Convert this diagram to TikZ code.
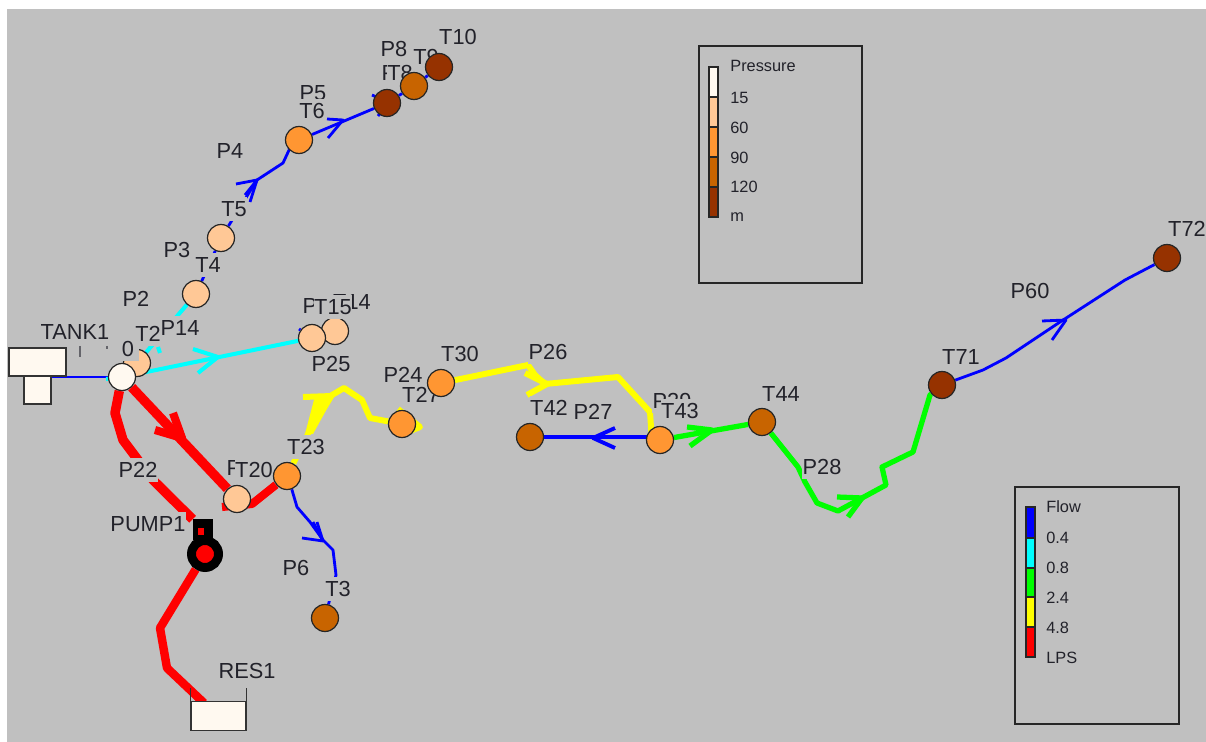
\documentclass[tikz,border=0pt]{standalone}
\usepackage{fontspec}
\setmainfont{Liberation Sans}
\usetikzlibrary{backgrounds}
\definecolor{mapgray}{HTML}{C0C0C0}
\definecolor{inkgray}{HTML}{22222A}
\definecolor{pressA}{HTML}{FFF9F0}
\definecolor{pressB}{HTML}{FFC896}
\definecolor{pressC}{HTML}{FF9632}
\definecolor{pressD}{HTML}{C86400}
\definecolor{pressE}{HTML}{963200}
\definecolor{flowA}{HTML}{0000FF}
\definecolor{flowB}{HTML}{00FFFF}
\definecolor{flowC}{HTML}{00FF00}
\definecolor{flowD}{HTML}{FFFF00}
\definecolor{flowE}{HTML}{FF0000}

\begin{document}
\begin{tikzpicture}[x=0.02cm, y=-0.02cm,
  junction/.style={circle, draw=black!85, line width=0.7pt, minimum size=0.54cm, inner sep=0pt},
  maplabel/.style={font=\fontsize{12.4}{14}\selectfont, text=inkgray, fill=mapgray, text height=9pt, text depth=0pt, inner ysep=2.6pt, inner xsep=0.3pt},
  legendlabel/.style={font=\fontsize{9.3}{11}\selectfont, text=inkgray, anchor=west, inner sep=0pt},
  legendbox/.style={draw=black!85, line width=0.9pt},
  legendbar/.style={draw=black!85, line width=0.8pt},
  tankbox/.style={draw=black!80, line width=0.8pt, fill=pressA, inner sep=0pt},
  pipeblue/.style={draw=flowA, line width=1.6pt, line join=round},
  pipecyan/.style={draw=flowB, line width=2.3pt, line join=round},
  pipegreen/.style={draw=flowC, line width=3pt, line join=round},
  pipeyellow/.style={draw=flowD, line width=3.4pt, line join=round},
  pipered/.style={draw=flowE, line width=5.4pt, line join=round}]
\useasboundingbox (0,0) rectangle (1206,742);

% pipe labels first, the node labels sit on top of them
\node[maplabel] (lbP2) at (136,299) {P2};
\node[maplabel] (lbP3) at (177,250) {P3};
\node[maplabel] (lbP4) at (230,151) {P4};
\node[maplabel] (lbP5) at (313,93) {P5};
\node[maplabel] (lbP6) at (296,568) {P6};
\node[maplabel] (lbP7) at (395,73) {P7};
\node[maplabel] (lbP8) at (394,49) {P8};
\node[maplabel] (lbP13) at (322,306) {P13};
\node[maplabel] (lbP14) at (180,328) {P14};
\node[maplabel] (lbP21) at (246,468) {P21};
\node[maplabel] (lbP22) at (138,470) {P22};
\node[maplabel] (lbP24) at (403,375) {P24};
\node[maplabel] (lbP25) at (331,364) {P25};
\node[maplabel] (lbP26) at (548,352) {P26};
\node[maplabel] (lbP27) at (593,412) {P27};
\node[maplabel] (lbP28) at (822,467) {P28};
\node[maplabel] (lbP29) at (672,401) {P29};
\node[maplabel] (lbP60) at (1030,291) {P60};

% tanks and pump
\node[tankbox, minimum width=0.54cm, minimum height=0.56cm] (tankLow) at (37.5,390) {};
\node[tankbox, minimum width=1.14cm, minimum height=0.56cm] (tankTop) at (37.5,362) {};
\node[maplabel] (lbTank) at (75,332) {TANK1};
\node[tankbox, minimum width=1.1cm, minimum height=0.58cm] (res) at (218.5,716) {};
\draw[draw=black!80, line width=0.8pt] (res.north west) -- ++(0,-13);
\draw[draw=black!80, line width=0.8pt] (res.north east) -- ++(0,-13);
\node[maplabel] (lbRes) at (247,671) {RES1};
\node[maplabel] (lbPump) at (148,524) {PUMP1};
\node[fill=black, minimum width=0.4cm, minimum height=0.42cm, inner sep=0pt] (pumpHead) at (203,529.5) {};
\node[fill=flowE, minimum width=0.12cm, minimum height=0.14cm, inner sep=0pt] (pumpMark) at (201,531.5) {};
\node[circle, draw=black, fill=flowE, line width=5.1pt, minimum size=0.54cm, inner sep=0pt] (pump) at (205,554) {};

% junctions with their labels, in number order
\node[junction, fill=pressB] (T2) at (137,363) {};
\node[maplabel, inner xsep=3pt] (lb0) at (128,349) {0};
\node[maplabel] (lbT2) at (148,334) {T2};
\node[junction, fill=pressD] (T3) at (325,618) {};
\node[maplabel] (lbT3) at (338,589) {T3};
\node[junction, fill=pressB] (T4) at (196,294) {};
\node[maplabel] (lbT4) at (208,265) {T4};
\node[junction, fill=pressB] (T5) at (221,238) {};
\node[maplabel] (lbT5) at (234,209) {T5};
\node[junction, fill=pressC] (T6) at (299,140) {};
\node[maplabel] (lbT6) at (312,111) {T6};
\node[junction, fill=pressE] (T8) at (387,103) {};
\node[maplabel] (lbT8) at (400,73) {T8};
\node[junction, fill=pressD] (T9) at (414,86) {};
\node[maplabel] (lbT9) at (426,57) {T9};
\node[junction, fill=pressE] (T10) at (439,67) {};
\node[maplabel] (lbT10) at (458,37) {T10};
\node[junction, fill=pressB] (T14) at (335,331) {};
\node[maplabel] (lbT14) at (352,302) {T14};
\node[junction, fill=pressB] (T15) at (312,338) {};
\node[maplabel] (lbT15) at (333,307) {T15};
\node[junction, fill=pressB] (T20) at (237,499) {};
\node[maplabel] (lbT20) at (254,470) {T20};
\node[junction, fill=pressC] (T23) at (287,476) {};
\node[maplabel] (lbT23) at (306,447) {T23};
\node[junction, fill=pressC] (T27) at (402,424) {};
\node[maplabel] (lbT27) at (421,395) {T27};
\node[junction, fill=pressC] (T30) at (441,383) {};
\node[maplabel] (lbT30) at (460,354) {T30};
\node[junction, fill=pressD] (T42) at (530,437) {};
\node[maplabel] (lbT42) at (549,408) {T42};
\node[junction, fill=pressC] (T43) at (660,440) {};
\node[maplabel] (lbT43) at (680,411) {T43};
\node[junction, fill=pressD] (T44) at (762,422) {};
\node[maplabel] (lbT44) at (781,394) {T44};
\node[junction, fill=pressE] (T71) at (942,385) {};
\node[maplabel] (lbT71) at (961,357) {T71};
\node[junction, fill=pressE] (T72) at (1167,258) {};
\node[maplabel] (lbT72) at (1187,229) {T72};
\node[junction, fill=pressA] (T0) at (122,377) {};

\begin{scope}[on background layer]
\fill[white] (0,0) rectangle (1206,742);
\fill[mapgray] (7,9) rectangle (1206,742);
\coordinate (stubA) at (106,379);
\coordinate (stubB) at (299,329);
\coordinate (redIn) at (222,507);
\coordinate (resIn) at (204,703);
\coordinate (tankOut) at (51,377);
\coordinate (yellowIn) at (652,442);
% blue
\draw[pipeblue] (tankOut) -- (T0);
\draw[pipeblue] (T2) -- (T4);
\draw[pipeblue] (T4) -- (T5);
\draw[pipeblue] (T5) -- (257,180) -- (283,163) -- (290,148) -- (T6);
\draw[pipeblue] (236,184) -- (257,180) -- (250,202);
\draw[pipeblue] (245,195) -- (257,180);
\draw[pipeblue] (T6) -- (T8);
\draw[pipeblue] (327,119) -- (343,120) -- (328,138);
\draw[pipeblue] (372,95) -- (390,103) -- (378,116);
\draw[pipeblue] (T8) -- (T9);
\draw[pipeblue] (T9) -- (T10);
\draw[pipeblue] (T15) -- (stubB);
\draw[pipeblue] (T23) -- (292,490) -- (297,507) -- (310,522) -- (323,540) -- (333,550) -- (336,575) -- (T3);
\draw[pipeblue] (302,538) -- (323,541) -- (313,522);
\draw[pipeblue] (323,541) -- (317,522);
\draw[pipeblue, line width=2.2pt] (T42.east) -- (T42 -| T43);
\draw[pipeblue, line width=2.2pt] (615,428) -- (593,438) -- (615,448);
\draw[pipeblue] (T71) -- (983,370) -- (1006,358) -- (1060,322) -- (1125,280) -- (T72);
\draw[pipeblue] (1042,321) -- (1066,320) -- (1052,340);
% cyan
\draw[pipecyan] (T2) -- (T4);
\draw[pipecyan] (158,347) -- (160,353);
\draw[pipecyan] (T0) -- (stubA);
\draw[pipecyan] (T0) -- (T15);
\draw[pipecyan] (193,349) -- (218,357) -- (198,373);
% green
\draw[pipegreen] (T43) -- (T44);
\draw[pipegreen] (687,427) -- (712,430) -- (690,446);
\draw[pipegreen] (T44) -- (798,467) -- (805,482) -- (817,503) -- (838,511) -- (862,498) -- (886,485) -- (882,467) -- (913,452) -- (930,395) -- (T71);
\draw[pipegreen] (837,497) -- (862,498) -- (848,517);
% yellow
\draw[pipeyellow] (T23) -- (310,430) -- (332,395) -- (344,388) -- (362,400) -- (370,418) -- (T27);
\fill[flowD] (315,396) -- (334,396) -- (313,434) -- (305,434) -- cycle;
\draw[pipeyellow] (303,397) -- (332,396);
\draw[pipeyellow] (398,409) -- (420,427) -- (405,433);
\draw[pipeyellow] (T30) -- (528,365) -- (535,375) -- (545,384) -- (618,377) -- (650,412) -- (yellowIn);
\draw[pipeyellow] (525,373) -- (547,384) -- (527,395);
% red
\draw[pipered] (T0) -- (115,413) -- (123,440) -- (153,480) -- (pumpHead);
\draw[pipered] (T0) -- (T20);
\draw[pipered, line width=4.6pt] (173,413) -- (182,438) -- (155,430);
\draw[pipered, line width=4.6pt] (redIn) -- (252,504) -- (T23);
\draw[pipered, line width=4.8pt] (pump) -- (160,628) -- (167,668) -- (resIn);
\end{scope}

% marks left over under the tank label
\draw[inkgray!70, line width=0.7pt] (80,346) -- (80,357);
\draw[inkgray!70, line width=0.7pt] (107,346) -- (107,349);

% pressure legend
\draw[legendbox] (699,46) rectangle (862,283);
\foreach \ya/\yb/\col in {67/97/pressA, 97/127/pressB, 127/157/pressC, 157/187/pressD, 187/217/pressE}
  \draw[legendbar, fill=\col] (709,\ya) rectangle (718,\yb);
\foreach \yl/\txt in {66/Pressure, 98/15, 128/60, 158/90, 187/120, 217/m}
  \node[legendlabel] at (730,\yl) {\txt};

% flow legend
\draw[legendbox] (1015,487) rectangle (1179,724);
\foreach \ya/\yb/\col in {507/538/flowA, 538/568/flowB, 568/597/flowC, 597/627/flowD, 627/657/flowE}
  \draw[legendbar, fill=\col] (1026,\ya) rectangle (1035,\yb);
\foreach \yl/\txt in {507/Flow, 538/0.4, 568/0.8, 598/2.4, 628/4.8, 658/LPS}
  \node[legendlabel] at (1046,\yl) {\txt};
\end{tikzpicture}
\end{document}
